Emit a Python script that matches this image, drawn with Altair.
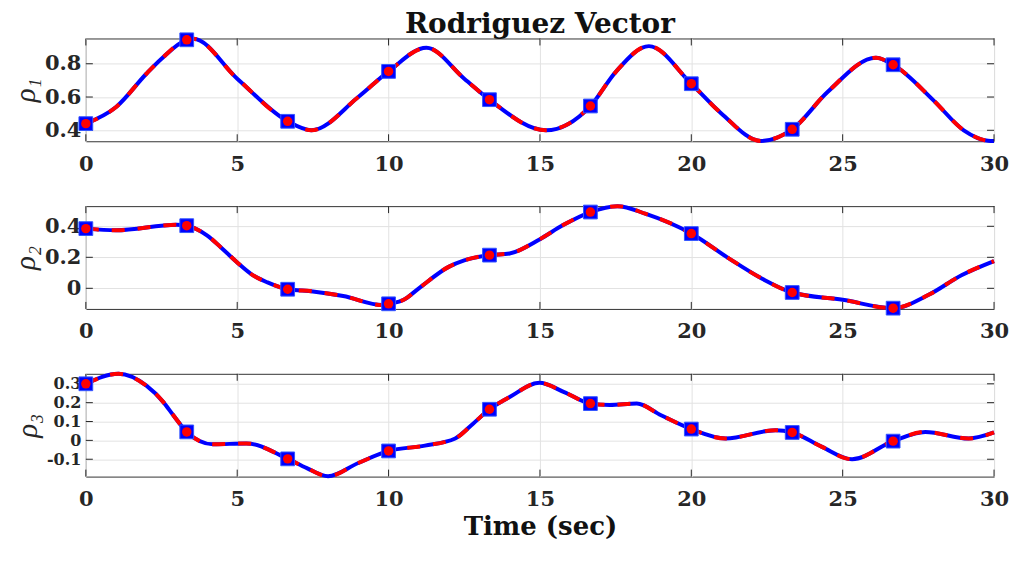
import altair as alt
import pandas as pd

# ---------------- data ----------------
x_ticks = [0, 5, 10, 15, 20, 25, 30]

# rho_1 curve knots
t1 = [0, 1, 2, 2.5, 3.333, 3.55, 5, 6.667, 7.45, 9, 10, 11.25, 12.5, 13.333, 15.2,
      16.667, 17.5, 18.6, 20, 21, 22.3, 23.333, 24.5, 26.1, 26.667, 28, 29, 29.8, 30]
r1 = [0.44, 0.54, 0.74, 0.83, 0.944, 0.95, 0.71, 0.454, 0.40, 0.60, 0.754, 0.896, 0.71, 0.584, 0.40,
      0.546, 0.75, 0.906, 0.68, 0.50, 0.336, 0.406, 0.63, 0.836, 0.794, 0.58, 0.40, 0.337, 0.335]

# rho_2 curve knots
t2 = [0, 1.0, 3.0, 3.333, 4, 4.5, 5, 5.5, 6, 6.667, 7.5, 8.5, 9.8, 10, 10.5, 11, 12, 12.5,
      13.333, 14, 15, 15.75, 16.667, 17.56, 18.5, 20, 21.24, 22.34, 23.333, 25, 26.667,
      27.84, 28.94, 30]
r2 = [0.385, 0.374, 0.41, 0.404, 0.342, 0.257, 0.167, 0.087, 0.038, -0.006, -0.02, -0.05,
      -0.108, -0.1, -0.074, 0.0, 0.14, 0.18, 0.214, 0.225, 0.317, 0.406, 0.492, 0.53, 0.48,
      0.353, 0.193, 0.062, -0.027, -0.074, -0.128, -0.042, 0.086, 0.176]

# rho_3 curve knots
t3 = [0, 1.08, 2.0, 2.56, 2.89, 3.333, 4.2, 5.3, 6.667, 7.3, 8.0, 9, 10, 11.2, 12.2, 12.8,
      13.333, 14, 14.98, 15.8, 16.667, 17.3, 18.2, 19, 20, 21.13, 22.78, 23.333, 24.3,
      25.31, 26.667, 27.73, 29.16, 30]
r3 = [0.30, 0.353, 0.29, 0.203, 0.133, 0.045, -0.021, -0.016, -0.098, -0.147, -0.19, -0.12,
      -0.056, -0.028, 0.01, 0.09, 0.165, 0.23, 0.305, 0.256, 0.195, 0.188, 0.195, 0.133, 0.06,
      0.01, 0.054, 0.042, -0.033, -0.1, -0.004, 0.045, 0.01, 0.042]

# marker samples
mark_t = [0, 3.333, 6.667, 10, 13.333, 16.667, 20, 23.333, 26.667]
m1 = [0.44, 0.944, 0.454, 0.754, 0.584, 0.546, 0.68, 0.406, 0.794]
m2 = [0.385, 0.404, -0.006, -0.1, 0.214, 0.492, 0.353, -0.027, -0.128]
m3 = [0.30, 0.045, -0.098, -0.056, 0.165, 0.195, 0.06, 0.042, -0.004]

y_domains = [[0.334, 0.952], [-0.133, 0.53], [-0.192, 0.353]]
y_ticks = [[0.4, 0.6, 0.8], [0, 0.2, 0.4], [-0.1, 0, 0.1, 0.2, 0.3]]
y_titles = ["ρ₁", "ρ₂", "ρ₃"]

W, H = 910, 103
TICK = 7
INK = "#262626"
BLUE = "#0000ff"
RED = "#ff0000"
LABEL_FONT = "DejaVu Serif"

label_expr = ("datum.value == 0 ? '0' : (datum.value < 0 ? '-' + format(-datum.value, '.1f') "
              ": format(datum.value, '.1f'))")


def panel(t, r, mr, domain, yticks, ytitle, xtitle, title, ylab_size):
    df = pd.DataFrame({"t": t, "v": r})
    dm = pd.DataFrame({"t": mark_t, "v": mr})
    dxt = pd.DataFrame({"t": x_ticks})
    dyt = pd.DataFrame({"v": yticks})
    xs = alt.Scale(domain=[0, 30], nice=False, zero=False)
    ys = alt.Scale(domain=domain, nice=False, zero=False)

    xaxis_kw = dict(values=x_ticks, format="d", grid=True, gridColor="#e2e2e2", ticks=False,
                    domain=False, labelPadding=12, labelFont=LABEL_FONT, labelFlush=False,
                    labelFontWeight="bold", labelFontSize=21, labelColor=INK)
    if xtitle:
        xaxis_kw.update(title=xtitle, titleFont="DejaVu Serif", titleFontWeight="bold",
                        titleFontSize=26, titleColor="#111111", titlePadding=4)
    else:
        xaxis_kw.update(title=None)
    yaxis = alt.Axis(values=yticks, labelExpr=label_expr, grid=True, gridColor="#e2e2e2",
                     ticks=False, domain=False, labelPadding=5, labelFont=LABEL_FONT,
                     labelFontWeight="bold", labelFontSize=ylab_size, labelColor=INK,
                     labelOverlap=False, labelFlush=False,
                     title=ytitle, titleFont="Liberation Serif", titleFontStyle="italic",
                     titleFontWeight="normal", titleFontSize=29, titleColor=INK,
                     titlePadding=4)
    X = alt.X("t:Q", scale=xs, axis=alt.Axis(**xaxis_kw))
    Y = alt.Y("v:Q", scale=ys, axis=yaxis)

    blue = alt.Chart(df).mark_line(color=BLUE, strokeWidth=4, interpolate="monotone").encode(
        x=X, y=Y)
    red = alt.Chart(df).mark_line(color=RED, strokeWidth=4, strokeDash=[13, 13],
                                  interpolate="monotone").encode(x=X, y=Y)
    sq = alt.Chart(dm).mark_point(shape="square", filled=True, size=190, color=BLUE,
                                  stroke="#3355ff", strokeWidth=1, opacity=1).encode(x=X, y=Y)
    ci = alt.Chart(dm).mark_point(shape="circle", filled=True, size=90, color=RED,
                                  opacity=1).encode(x=X, y=Y)
    xt_top = alt.Chart(dxt).mark_rule(color=INK, strokeWidth=1).encode(
        x=X, y=alt.value(0), y2=alt.value(TICK))
    xt_bot = alt.Chart(dxt).mark_rule(color=INK, strokeWidth=1).encode(
        x=X, y=alt.value(H), y2=alt.value(H - TICK))
    yt_left = alt.Chart(dyt).mark_rule(color=INK, strokeWidth=1).encode(
        y=Y, x=alt.value(0), x2=alt.value(TICK))
    yt_right = alt.Chart(dyt).mark_rule(color=INK, strokeWidth=1).encode(
        y=Y, x=alt.value(W - TICK), x2=alt.value(W))

    props = dict(width=W, height=H)
    if title:
        props["title"] = alt.TitleParams(title, font="DejaVu Serif", fontSize=28,
                                         fontWeight="bold", anchor="middle", color="#111111",
                                         offset=-8)
    return alt.layer(blue, xt_top, xt_bot, yt_left, yt_right, red, sq, ci).properties(**props)


p1 = panel(t1, r1, m1, y_domains[0], y_ticks[0], y_titles[0], None, "Rodriguez Vector", 21)
p2 = panel(t2, r2, m2, y_domains[1], y_ticks[1], y_titles[1], None, None, 21)
p3 = panel(t3, r3, m3, y_domains[2], y_ticks[2], y_titles[2], "Time (sec)", None, 16)

chart = alt.VConcatChart(vconcat=[p1, p2, p3], spacing=65, bounds="flush").properties(
    padding={"left": 2, "top": 1, "right": 0, "bottom": 0},
    background="white",
).configure_view(stroke="#333333", strokeWidth=1)

chart.save("out.html", embed_options={"renderer": "svg", "actions": False})
